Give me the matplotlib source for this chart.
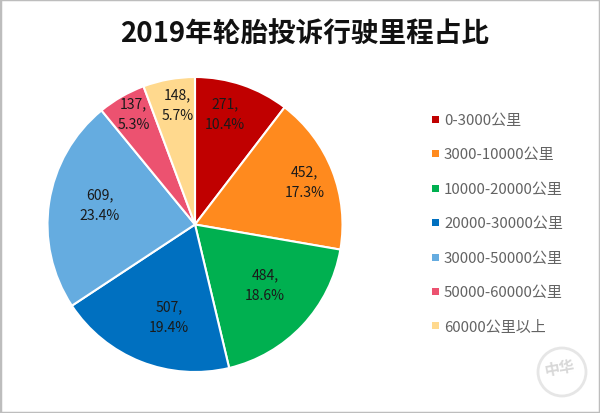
import matplotlib
matplotlib.use("Agg")
import matplotlib.pyplot as plt
import numpy as np
from matplotlib.patches import Circle, Rectangle

# only the JP name of the CJK family is registered here
plt.rcParams["font.family"] = "Noto Sans CJK JP"

TITLE = "2019年轮胎投诉行驶里程占比"
categories = ["0-3000公里", "3000-10000公里", "10000-20000公里", "20000-30000公里",
              "30000-50000公里", "50000-60000公里", "60000公里以上"]
counts = [271, 452, 484, 507, 609, 137, 148]
shares = ["10.4%", "17.3%", "18.6%", "19.4%", "23.4%", "5.3%", "5.7%"]
colors = ["#C00000", "#FF8A1E", "#00B050", "#0070C0", "#65ACE0", "#EC5270", "#FFD98E"]

W, H = 600, 414
fig = plt.figure(figsize=(W / 100, H / 100), dpi=100, facecolor="white")

# pie axes sized in pixels
cx, cy, r = 195, 225.5, 147.5
ax = fig.add_axes([(cx - r) / W, 1 - (cy + r) / H, 2 * r / W, 2 * r / H])
wedges, _ = ax.pie(counts, colors=colors, startangle=90, counterclock=False, radius=1.0,
                   wedgeprops=dict(edgecolor="white", linewidth=1.5))
ax.set_xlim(-1, 1)
ax.set_ylim(-1, 1)

# data labels: radial distance and clockwise nudge from each wedge's mid angle
dist = [0.78, 0.796, 0.625, 0.647, 0.66, 0.858, 0.82]
nudge = [-3.5, 0.1, -2.8, -5.7, 3.0, 0.8, 1.8]
for w, n, s, d, da in zip(wedges, counts, shares, dist, nudge):
    a = np.deg2rad((w.theta1 + w.theta2) / 2 - da)
    ax.text(d * np.cos(a), d * np.sin(a), f"{n},\n{s}", ha="center", va="center",
            fontsize=10.1, color="#1a1a1a", linespacing=1.6)

fig.text(304.5 / W, 1 - 35 / H, TITLE, ha="center", va="center", fontsize=19.9,
         fontweight="bold", color="#111111")

# legend
leg_y = [120.5, 154.5, 189, 223.5, 258, 292, 326.5]
for name, col, y in zip(categories, colors, leg_y):
    fig.add_artist(Rectangle((432 / W, 1 - (y + 3.5) / H), 7 / W, 7 / H, transform=fig.transFigure,
                             facecolor=col, edgecolor="none"))
    fig.text(444 / W, 1 - (y + 1) / H, name, ha="left", va="center", fontsize=10.8, color="#636363")

# faint watermark
wm = fig.add_axes([0, 0, 1, 1], facecolor="none")
wm.set_xlim(0, W)
wm.set_ylim(H, 0)
wm.axis("off")
wm.add_patch(Circle((562, 373), 24, facecolor="none", edgecolor="#e6e6e6", linewidth=2))
wm.text(560, 368, "中华", ha="center", va="center", fontsize=11, fontweight="bold",
        color="#d8d8d8", rotation=10)

# picture frame
fig.add_artist(Rectangle((0, 0), 1, 1, transform=fig.transFigure, facecolor="none",
                         edgecolor="#bdbdbd", linewidth=2.5))

fig.savefig("out.png", dpi=100)
